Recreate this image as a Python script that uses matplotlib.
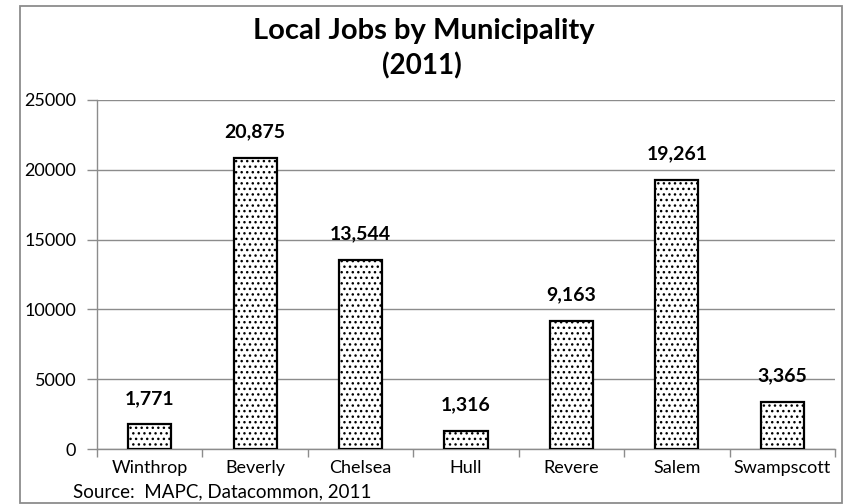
import matplotlib
matplotlib.use("Agg")
import matplotlib.pyplot as plt
from matplotlib.patches import Rectangle

towns = ["Winthrop", "Beverly", "Chelsea", "Hull", "Revere", "Salem", "Swampscott"]
jobs = [1771, 20875, 13544, 1316, 9163, 19261, 3365]
y_ticks = [0, 5000, 10000, 15000, 20000, 25000]

plt.rcParams["font.family"] = ["Lato", "DejaVu Sans"]
plt.rcParams["hatch.color"] = "#606060"
plt.rcParams["hatch.linewidth"] = 1.0

fig = plt.figure(figsize=(8.46, 5.04), dpi=100)
ax = fig.add_axes([97 / 846, 1 - 449 / 504, (835 - 97) / 846, (449 - 100) / 504])

x = range(len(towns))
bars = ax.bar(x, jobs, width=0.41, color="white", edgecolor="black",
              linewidth=1.6, hatch="...", zorder=3)

for xi, v in zip(x, jobs):
    ax.text(xi, v + 1250, f"{v:,}", ha="center", va="bottom",
            fontsize=14, fontweight="bold", zorder=4)

ax.set_xlim(-0.5, len(towns) - 0.5)
ax.set_ylim(0, 25000)
ax.set_yticks(y_ticks)
ax.set_yticklabels([str(t) for t in y_ticks], fontsize=13)
ax.yaxis.grid(True, color="#8c8c8c", linewidth=1.0, zorder=0)
ax.tick_params(axis="y", length=7, color="#8c8c8c", pad=8, width=1.0)

ax.set_xticks(x)
ax.set_xticklabels(towns, fontsize=13)
ax.set_xticks([i - 0.5 for i in range(len(towns) + 1)], minor=True)
ax.tick_params(axis="x", which="major", length=0, pad=8)
ax.tick_params(axis="x", which="minor", length=6, color="#8c8c8c", width=1.0)

for side in ["top", "right"]:
    ax.spines[side].set_visible(False)
for side in ["left", "bottom"]:
    ax.spines[side].set_color("#8c8c8c")
    ax.spines[side].set_linewidth(1.0)

fig.text(424 / 846, 1 - 31 / 504, "Local Jobs by Municipality", ha="center",
         va="center", fontsize=21, fontweight="bold")
fig.text(422 / 846, 1 - 66 / 504, "(2011)", ha="center", va="center",
         fontsize=20, fontweight="bold")
fig.text(73 / 846, 1 - 492 / 504, "Source:  MAPC, Datacommon, 2011",
         ha="left", va="center", fontsize=13.5)

fig.patches.append(Rectangle((20 / 846, 1 / 504), 822 / 846, 497 / 504,
                             transform=fig.transFigure, fill=False,
                             edgecolor="#8c8c8c", linewidth=1.3))

fig.savefig("out.png", dpi=100)
